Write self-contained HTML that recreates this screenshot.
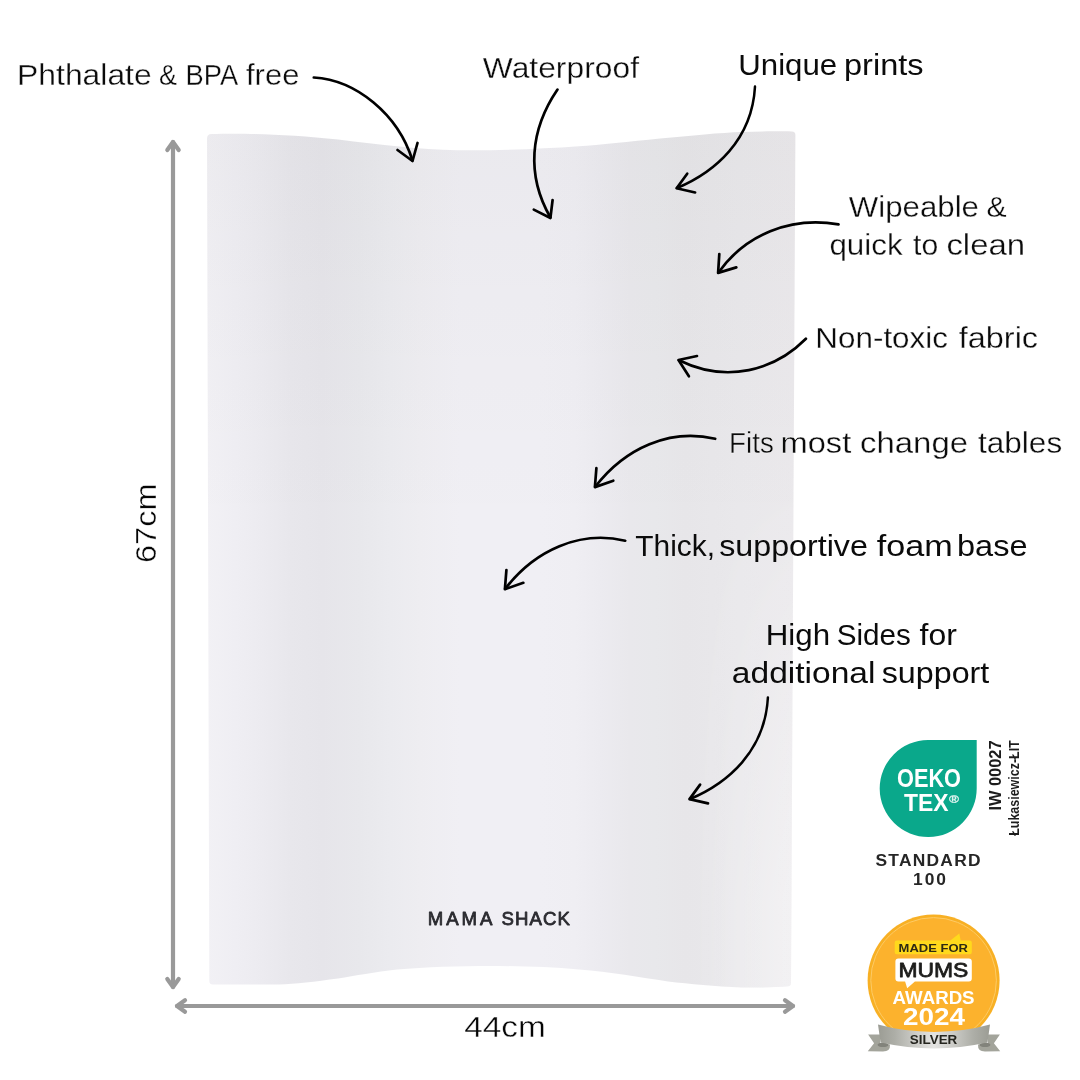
<!DOCTYPE html>
<html lang="en">
<head>
<meta charset="utf-8">
<title>Mama Shack change mat features</title>
<style>
html,body{margin:0;padding:0;background:#fff;}
body{width:1080px;height:1080px;overflow:hidden;}
svg{display:block;will-change:transform;}
.lt{font-family:"Liberation Sans",sans-serif;font-size:29px;fill:#0b0b0b;stroke:#fff;stroke-width:.3px;}
.rg{font-family:"Liberation Sans",sans-serif;font-size:29px;fill:#0b0b0b;}
.dim{font-family:"Liberation Sans",sans-serif;font-size:29.5px;fill:#050505;stroke:#fff;stroke-width:.4px;}
.arr{fill:none;stroke:#000;stroke-width:2.7;stroke-linecap:round;stroke-linejoin:round;}
.gar{fill:none;stroke:#999;stroke-width:4.2;stroke-linecap:round;stroke-linejoin:round;}
</style>
</head>
<body>
<svg width="1080" height="1080" viewBox="0 0 1080 1080">
<defs>
<linearGradient id="matg" x1="207" y1="0" x2="795" y2="0" gradientUnits="userSpaceOnUse">
<stop offset="0.000" stop-color="#f2f1f5"/>
<stop offset="0.048" stop-color="#efeef3"/>
<stop offset="0.094" stop-color="#ecebf0"/>
<stop offset="0.141" stop-color="#e8e7ec"/>
<stop offset="0.196" stop-color="#e6e5ea"/>
<stop offset="0.260" stop-color="#e8e8ec"/>
<stop offset="0.311" stop-color="#ebebef"/>
<stop offset="0.362" stop-color="#eeedf1"/>
<stop offset="0.430" stop-color="#f0eff4"/>
<stop offset="0.566" stop-color="#f0eff4"/>
<stop offset="0.626" stop-color="#efeef3"/>
<stop offset="0.668" stop-color="#ecebf0"/>
<stop offset="0.719" stop-color="#e9e8ec"/>
<stop offset="0.762" stop-color="#e8e8eb"/>
<stop offset="0.813" stop-color="#e7e6e9"/>
<stop offset="0.906" stop-color="#e9e8eb"/>
<stop offset="1.000" stop-color="#ebe9ec"/>
</linearGradient>
<linearGradient id="matt" x1="0" y1="130" x2="0" y2="540" gradientUnits="userSpaceOnUse">
<stop offset="0" stop-color="#14140a" stop-opacity=".026"/><stop offset=".4" stop-color="#14140a" stop-opacity=".014"/><stop offset="1" stop-color="#14140a" stop-opacity="0"/>
</linearGradient>
<linearGradient id="math" x1="690" y1="0" x2="795" y2="0" gradientUnits="userSpaceOnUse">
<stop offset="0" stop-color="#fff" stop-opacity="0"/><stop offset="1" stop-color="#fff" stop-opacity=".4"/>
</linearGradient>
<linearGradient id="matv" x1="0" y1="450" x2="0" y2="900" gradientUnits="userSpaceOnUse">
<stop offset="0" stop-color="#000"/><stop offset="1" stop-color="#fff"/>
</linearGradient>
<mask id="matm" maskUnits="userSpaceOnUse" x="680" y="400" width="130" height="600"><rect x="680" y="400" width="130" height="600" fill="url(#matv)"/></mask>
<clipPath id="matc"><path d="M207,138.5 Q207,134.3 211.5,134.1 C240,133 290,134 338,139.6 C380,144.8 420,149.8 457,150.2 C500,150.6 540,149 579,146.3 C620,143.3 700,133.5 742,132 C760,131.4 780,131.3 792,131.4 Q795.4,131.5 795.4,135 L791,983 Q791,986 788,986.2 C775,987.2 760,987.8 742,987.4 C715,986.5 690,984 668,981.5 C640,977.5 610,972 579,969.6 C550,967 520,966 490,966 C460,966 425,967 397,969.6 C375,972 355,976 338,978.5 C315,981.5 295,984.2 279,984.4 L213,984.5 Q209.3,984.5 209.3,981 Z"/></clipPath>
</defs>
<rect width="1080" height="1080" fill="#fff"/>

<!-- mat -->
<path id="mat" fill="url(#matg)" d="M207,138.5 Q207,134.3 211.5,134.1 C240,133 290,134 338,139.6 C380,144.8 420,149.8 457,150.2 C500,150.6 540,149 579,146.3 C620,143.3 700,133.5 742,132 C760,131.4 780,131.3 792,131.4 Q795.4,131.5 795.4,135 L791,983 Q791,986 788,986.2 C775,987.2 760,987.8 742,987.4 C715,986.5 690,984 668,981.5 C640,977.5 610,972 579,969.6 C550,967 520,966 490,966 C460,966 425,967 397,969.6 C375,972 355,976 338,978.5 C315,981.5 295,984.2 279,984.4 L213,984.5 Q209.3,984.5 209.3,981 Z"/>

<g clip-path="url(#matc)"><rect x="200" y="125" width="600" height="420" fill="url(#matt)"/><rect x="690" y="400" width="110" height="600" fill="url(#math)" mask="url(#matm)"/></g>

<!-- dimension arrows -->
<g class="gar">
<path d="M173,142 L173,987"/>
<path d="M167.300,150 L173,142 L178.700,150"/>
<path d="M167.300,979 L173,987 L178.700,979"/>
<path d="M177,1006 L793,1006"/>
<path d="M185,1000.300 L177,1006 L185,1011.700"/>
<path d="M785,1000.300 L793,1006 L785,1011.700"/>
</g>
<text class="dim" transform="translate(155.700,563) rotate(-90)" textLength="79.600" lengthAdjust="spacingAndGlyphs">67cm</text>
<text class="dim" x="464.200" y="1036.700" textLength="81.600" lengthAdjust="spacingAndGlyphs">44cm</text>

<!-- labels -->
<text class="lt" y="85"><tspan x="17.1" textLength="134.6" lengthAdjust="spacingAndGlyphs">Phthalate</tspan> <tspan x="159.1" textLength="17.9" lengthAdjust="spacingAndGlyphs">&amp;</tspan> <tspan x="185.5" textLength="51.1" lengthAdjust="spacingAndGlyphs">BPA</tspan> <tspan x="246.0" textLength="53.4" lengthAdjust="spacingAndGlyphs">free</tspan></text>
<text class="lt" y="78"><tspan x="482.8" textLength="156.2" lengthAdjust="spacingAndGlyphs">Waterproof</tspan></text>
<text class="rg" y="74.5"><tspan x="738.3" textLength="98.9" lengthAdjust="spacingAndGlyphs">Unique</tspan> <tspan x="844.0" textLength="79.5" lengthAdjust="spacingAndGlyphs">prints</tspan></text>
<text class="lt" y="217"><tspan x="848.8" textLength="130.2" lengthAdjust="spacingAndGlyphs">Wipeable</tspan> <tspan x="986.5" textLength="20.1" lengthAdjust="spacingAndGlyphs">&amp;</tspan></text>
<text class="lt" y="255"><tspan x="829.4" textLength="73.3" lengthAdjust="spacingAndGlyphs">quick</tspan> <tspan x="913.0" textLength="25.2" lengthAdjust="spacingAndGlyphs">to</tspan> <tspan x="946.4" textLength="78.8" lengthAdjust="spacingAndGlyphs">clean</tspan></text>
<text class="lt" y="347.5"><tspan x="815.3" textLength="132.7" lengthAdjust="spacingAndGlyphs">Non-toxic</tspan> <tspan x="958.8" textLength="79.3" lengthAdjust="spacingAndGlyphs">fabric</tspan></text>
<text class="lt" y="452.8"><tspan x="729.1" textLength="44.8" lengthAdjust="spacingAndGlyphs">Fits</tspan> <tspan x="780.5" textLength="70.7" lengthAdjust="spacingAndGlyphs">most</tspan> <tspan x="860.1" textLength="107.9" lengthAdjust="spacingAndGlyphs">change</tspan> <tspan x="978.0" textLength="84.2" lengthAdjust="spacingAndGlyphs">tables</tspan></text>
<text class="rg" y="555.9"><tspan x="635.3" textLength="79.7" lengthAdjust="spacingAndGlyphs">Thick,</tspan> <tspan x="719.2" textLength="148.7" lengthAdjust="spacingAndGlyphs">supportive</tspan> <tspan x="876.7" textLength="76.0" lengthAdjust="spacingAndGlyphs">foam</tspan> <tspan x="957.0" textLength="70.5" lengthAdjust="spacingAndGlyphs">base</tspan></text>
<text class="rg" y="645"><tspan x="765.8" textLength="64.3" lengthAdjust="spacingAndGlyphs">High</tspan> <tspan x="836.7" textLength="74.2" lengthAdjust="spacingAndGlyphs">Sides</tspan> <tspan x="919.6" textLength="37.3" lengthAdjust="spacingAndGlyphs">for</tspan></text>
<text class="rg" y="683.1"><tspan x="731.8" textLength="143.7" lengthAdjust="spacingAndGlyphs">additional</tspan> <tspan x="881.7" textLength="107.6" lengthAdjust="spacingAndGlyphs">support</tspan></text>

<!-- curved arrows -->
<g class="arr">
<path d="M313.800,77.500 C356,80 398,114 412.500,160.500"/>
<path d="M397.500,150 L412.500,161 L417.500,143"/>
<path d="M557.500,89.600 C530,130 526,175 550.400,217.500"/>
<path d="M533.800,209.600 L550.400,218 L552.600,200"/>
<path stroke-width="2.500" d="M755,86.600 C752,140 715,172 677,188"/>
<path d="M687.200,173.700 L676.600,188.200 L695.100,192.500"/>
<path d="M838.500,224.400 C790,216 745,235 718.500,272.500"/>
<path d="M719.300,254.100 L718.100,272.900 L736.300,267.400"/>
<path d="M805.900,338.800 C775,370 727,384 679,360.300"/>
<path d="M697,356 L678.500,360 L688.900,376.300"/>
<path d="M715.200,438.800 C670,428 625,448 595.200,486.800"/>
<path d="M596.400,468.100 L594.900,487.100 L613.300,480.700"/>
<path d="M625.200,540.700 C580,530 535,550 505.200,588.800"/>
<path d="M506.400,570.200 L504.900,589.200 L523.300,582.800"/>
<path stroke-width="2.500" d="M767.900,697.500 C765,751 728,783 690,799"/>
<path d="M700.100,784.600 L689.500,799.100 L708,803.400"/>
</g>

<!-- brand -->
<text y="925" font-family="Liberation Sans,sans-serif" font-size="18.600" fill="#2b2b30" stroke="#2b2b30" stroke-width=".8" stroke-linejoin="round"><tspan x="427.700" textLength="63.800" lengthAdjust="spacing">MAMA</tspan> <tspan x="501.500" textLength="68.300" lengthAdjust="spacing">SHACK</tspan></text>

<!-- OEKO-TEX badge -->
<g font-family="Liberation Sans,sans-serif" font-weight="bold">
<path d="M928,740 L976.700,740 L976.700,788 A48.500,48.500 0 1 1 928,740 Z" fill="#0aa88b"/>
<text x="897" y="787.200" font-size="25.500" fill="#fff" textLength="64" lengthAdjust="spacingAndGlyphs">OEKO</text>
<text x="904" y="811" font-size="24.500" fill="#fff" textLength="44.500" lengthAdjust="spacingAndGlyphs">TEX</text>
<text x="949" y="802.800" font-size="11.500" fill="#fff" fill-opacity=".85" stroke="#fff" stroke-opacity=".6" stroke-width=".3" textLength="10" lengthAdjust="spacingAndGlyphs">®</text>
<text x="875.500" y="865.800" font-size="17.400" fill="#262626" textLength="105" lengthAdjust="spacing">STANDARD</text>
<text x="913" y="885" font-size="17.400" fill="#262626" textLength="33" lengthAdjust="spacing">100</text>
<text transform="translate(1001.200,810.500) rotate(-90)" font-size="17.400" fill="#1c1c1c" textLength="70" lengthAdjust="spacingAndGlyphs">IW 00027</text>
<text transform="translate(1019,835.800) rotate(-90)" font-size="14" fill="#1c1c1c" textLength="95.500" lengthAdjust="spacingAndGlyphs">Łukasiewicz-ŁIT</text>
</g>

<!-- Made For Mums badge -->
<g id="mums" font-family="Liberation Sans,sans-serif" font-weight="bold">
<circle cx="933.600" cy="980.400" r="66" fill="#f8b024"/>
<circle cx="933.600" cy="980.400" r="62.800" fill="#fcb22d" stroke="#fdcb66" stroke-width="1"/>
<path d="M896.700,940.400 L950.300,940.400 L959.300,933.500 L960.700,940.400 L969.800,940.400 Q971.800,940.400 971.800,942.400 L971.800,952.300 Q971.800,954.300 969.800,954.300 L896.700,954.300 Q894.700,954.300 894.700,952.300 L894.700,942.400 Q894.700,940.400 896.700,940.400 Z" fill="#ffd91c"/>
<text x="898.600" y="951.500" font-size="11" fill="#2d2a14" textLength="69.300" lengthAdjust="spacingAndGlyphs">MADE FOR</text>
<path d="M898.400,958.500 L968.800,958.500 Q971.800,958.500 971.800,961.500 L971.800,978.400 Q971.800,981.400 968.800,981.400 L914.900,981.400 L907.200,988.300 L905.100,981.400 L898.400,981.400 Q895.400,981.400 895.400,978.400 L895.400,961.500 Q895.400,958.500 898.400,958.500 Z" fill="#fff"/>
<text x="898.400" y="977.200" font-size="21" font-weight="normal" fill="#1d1d1b" stroke="#1d1d1b" stroke-width=".8" stroke-linejoin="round" textLength="70" lengthAdjust="spacingAndGlyphs">MUMS</text>
<text x="892.600" y="1003.800" font-size="18.300" fill="#fff" textLength="82" lengthAdjust="spacingAndGlyphs">AWARDS</text>
<text x="903" y="1024.600" font-size="23.700" fill="#fff" textLength="62" lengthAdjust="spacingAndGlyphs">2024</text>
<linearGradient id="silv" x1="878" y1="0" x2="990" y2="0" gradientUnits="userSpaceOnUse">
<stop offset="0" stop-color="#9b9c94"/><stop offset=".15" stop-color="#adaea7"/><stop offset=".35" stop-color="#cfcfcb"/><stop offset=".5" stop-color="#e4e4e2"/><stop offset=".65" stop-color="#cfcfcb"/><stop offset=".85" stop-color="#adaea7"/><stop offset="1" stop-color="#9b9c94"/>
</linearGradient>
<path d="M868.100,1034.600 L880,1034.600 L880,1043 L890,1044.500 Q890.500,1051.500 883,1051.500 L867.800,1051.300 L874.100,1043.300 Z" fill="#a3a49b"/>
<path d="M999.900,1034.600 L988,1034.600 L988,1043 L978,1044.500 Q977.500,1051.500 985,1051.500 L1000.200,1051.300 L993.900,1043.300 Z" fill="#a3a49b"/>
<ellipse cx="883" cy="1044.800" rx="5.400" ry="2.300" fill="#82837b"/>
<ellipse cx="985" cy="1044.800" rx="5.400" ry="2.300" fill="#82837b"/>
<path d="M878,1024.600 Q904,1031.900 934,1031.900 Q964,1031.900 990,1024.600 L987.500,1042.600 Q960,1048.500 934,1048.500 Q908,1048.500 880.500,1042.600 Z" fill="url(#silv)"/>
<text x="909.800" y="1044.400" font-size="13.500" fill="#25251f" textLength="47.500" lengthAdjust="spacingAndGlyphs">SILVER</text>
</g>

</svg>
</body>
</html>
